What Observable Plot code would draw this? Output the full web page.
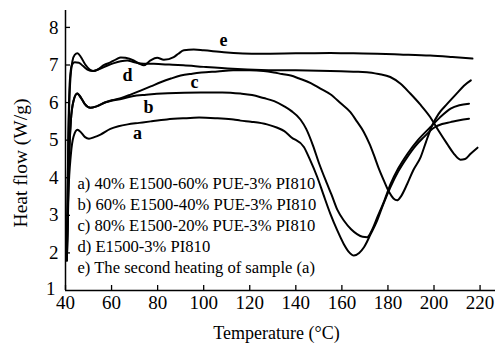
<!DOCTYPE html>
<html>
<head>
<meta charset="utf-8">
<script src="https://cdn.jsdelivr.net/npm/d3@7"></script>
<script src="https://cdn.jsdelivr.net/npm/@observablehq/plot@0.6"></script>
<style>
  html, body { margin: 0; padding: 0; background: #fff; }
  #chart svg { display: block; }
</style>
</head>
<body>
<div id="chart"></div>
<script>
// DSC heating curves: heat flow (W/g) against temperature (°C)
const seriesNames = ["a", "b", "c", "d", "e"];

const tempA = [40.6, 41.3, 42.3, 43.5, 45.2, 46.8, 48.5, 50.2, 52.5, 55.2, 59.5, 63, 67, 72, 77, 84, 91, 98, 106, 113, 116, 120.5, 127.5, 132, 135, 138, 143.5, 146, 149.3, 152, 155, 158, 160.8, 163, 165.2, 167.5, 169.6, 172.5, 175.3, 178, 181.1, 184.5, 188.4, 192, 195.6, 200, 203.5, 207.2, 211, 215.2];
const heatA = [1.8, 3.6, 4.6, 5.1, 5.28, 5.2, 5.08, 5.04, 5.08, 5.15, 5.3, 5.37, 5.42, 5.46, 5.5, 5.55, 5.58, 5.6, 5.58, 5.55, 5.52, 5.49, 5.42, 5.33, 5.24, 5.08, 4.82, 4.5, 4.02, 3.55, 3.04, 2.6, 2.24, 2.03, 1.93, 2.0, 2.15, 2.5, 2.86, 3.3, 3.75, 4.17, 4.55, 4.85, 5.08, 5.33, 5.43, 5.48, 5.53, 5.57];

const tempB = [40.6, 41.3, 42.3, 43.5, 45.1, 46.8, 48.5, 50.8, 53.5, 57.4, 60, 64.6, 69, 75, 84.4, 98.8, 108, 116, 121, 126, 130.6, 135, 138, 142, 144.5, 147.5, 150, 153.5, 155.5, 158, 161, 164, 166.6, 169, 171, 173, 175.4, 178.5, 181.2, 184.5, 188.5, 193, 198.5, 202.5, 207.2, 211, 215.2];
const heatB = [1.8, 4.0, 5.5, 6.05, 6.24, 6.12, 5.95, 5.86, 5.9, 6.01, 6.05, 6.1, 6.17, 6.21, 6.25, 6.27, 6.27, 6.24, 6.2, 6.12, 6.04, 5.9, 5.78, 5.55, 5.3, 4.85, 4.4, 3.85, 3.55, 3.15, 2.85, 2.63, 2.5, 2.43, 2.42, 2.6, 2.95, 3.4, 3.84, 4.25, 4.64, 5.0, 5.35, 5.6, 5.84, 5.93, 5.97];

const tempC = [40.6, 41.3, 42.3, 43.5, 45.1, 46.8, 48.5, 50.8, 53.5, 57.4, 60, 64.6, 68.5, 72.6, 77, 81.3, 85.8, 90, 95, 99, 106, 112.8, 120, 126, 130.5, 134, 137.8, 141.5, 146.5, 150.5, 155, 159.5, 163.6, 166.5, 169.5, 172, 173.8, 176, 178.2, 180.5, 182.4, 184, 185.6, 188.4, 191, 194.2, 196.5, 199.2, 202, 205.8, 210, 213, 216];
const heatC = [1.8, 4.0, 5.5, 6.05, 6.24, 6.12, 5.95, 5.86, 5.9, 6.01, 6.06, 6.13, 6.22, 6.32, 6.43, 6.54, 6.64, 6.72, 6.77, 6.8, 6.83, 6.86, 6.86, 6.84, 6.8, 6.76, 6.72, 6.64, 6.52, 6.38, 6.22, 5.98, 5.75, 5.5, 5.22, 4.9, 4.62, 4.25, 3.93, 3.62, 3.45, 3.4, 3.5, 3.84, 4.2, 4.55, 4.95, 5.39, 5.7, 5.97, 6.25, 6.45, 6.59];

const tempD = [40.6, 41.2, 41.9, 42.8, 44, 45.8, 47.5, 49.5, 52, 55, 58, 61, 64, 66.8, 69.5, 72.6, 78.3, 85, 91.2, 100, 112.6, 125, 137.5, 155, 165, 170.9, 176, 181, 185.5, 189.7, 194, 198.4, 202, 205.7, 208.5, 211.5, 213.5, 215.9, 218.9];
const heatD = [2.0, 5.0, 6.6, 7.0, 7.07, 7.06, 6.98, 6.88, 6.84, 6.9, 6.98, 7.05, 7.1, 7.12, 7.08, 7.04, 7.03, 7.01, 6.99, 6.95, 6.9, 6.87, 6.86, 6.84, 6.82, 6.81, 6.76, 6.68, 6.5, 6.24, 5.95, 5.61, 5.25, 4.9, 4.65, 4.48, 4.5, 4.64, 4.8];

const tempE = [40.6, 41.2, 42, 43, 44, 45.2, 46.6, 48.5, 50.5, 52, 54, 56.8, 59.5, 62, 64, 66, 69.6, 72, 74, 76.9, 79.8, 82.7, 87, 89, 91.4, 95.7, 100, 108.7, 124.7, 140, 155, 165, 175.3, 185, 198.3, 208, 216.7];
const heatE = [2.0, 4.8, 6.5, 7.1, 7.27, 7.31, 7.22, 7.02, 6.88, 6.84, 6.88, 7.0, 7.07, 7.15, 7.2, 7.19, 7.12, 7.04, 6.99, 7.12, 7.19, 7.14, 7.21, 7.3, 7.39, 7.41, 7.39, 7.34, 7.3, 7.31, 7.32, 7.31, 7.3, 7.28, 7.25, 7.21, 7.17];

const xTicks = [40, 60, 80, 100, 120, 140, 160, 180, 200, 220];
const yTicks = [2, 3, 4, 5, 6, 7, 8];
const yTickBottom = [1];

const legendLines = [
  "a) 40% E1500-60% PUE-3% PI810",
  "b) 60% E1500-40% PUE-3% PI810",
  "c) 80% E1500-20% PUE-3% PI810",
  "d) E1500-3% PI810",
  "e) The second heating of sample (a)"
];

// long-format table for the line mark
const temps = [tempA, tempB, tempC, tempD, tempE];
const heats = [heatA, heatB, heatC, heatD, heatE];
const rows = [];
seriesNames.forEach((s, k) => {
  temps[k].forEach((t, i) => rows.push({series: s, t, q: heats[k][i]}));
});

// where each curve's letter sits, in data units
const labelAt = [
  {name: "a", t: 71.3, q: 5.18},
  {name: "b", t: 76.0, q: 5.87},
  {name: "c", t: 96.0, q: 6.54},
  {name: "d", t: 66.9, q: 6.72},
  {name: "e", t: 108.6, q: 7.65}
];

const serif = "'Liberation Serif', 'Times New Roman', Times, serif";
const legendTop = 3.835, legendStep = 0.555;

const chart = Plot.plot({
  width: 497,
  height: 344,
  marginLeft: 65,
  marginRight: 2,
  marginTop: 10,
  marginBottom: 54,
  style: {fontFamily: serif, background: "#fff", color: "#000"},
  x: {domain: [40, 226.7]},
  y: {domain: [1, 8.45]},
  marks: [
    Plot.axisX({ticks: xTicks, tickSize: -5, tickPadding: 10, fontSize: 19, label: null, strokeWidth: 1.3}),
    Plot.axisY({ticks: yTicks, tickSize: -5, tickPadding: 12, fontSize: 19, label: null, strokeWidth: 1.3}),
    // the lowest label sits a little further left, clear of the "40" below it
    Plot.axisY({ticks: yTickBottom, tickSize: 0, tickPadding: 10, dy: -2, fontSize: 19, label: null}),
    Plot.ruleX([40], {strokeWidth: 1.5}),
    Plot.ruleY([1], {strokeWidth: 1.5}),
    Plot.line(rows, {x: "t", y: "q", z: "series", stroke: "#000", strokeWidth: 2, curve: "monotone-x"}),
    Plot.text(legendLines, {
      x: 45.2,
      y: (d, i) => legendTop - i * legendStep,
      text: d => d,
      textAnchor: "start",
      fontSize: 16.6
    }),
    Plot.text(labelAt, {x: "t", y: "q", text: "name", fontSize: 18, fontWeight: "bold"}),
    Plot.text(["Temperature (°C)"], {frameAnchor: "bottom", textAnchor: "middle", lineAnchor: "middle", dx: -4, dy: 43, fontSize: 18}),
    Plot.text(["Heat flow (W/g)"], {frameAnchor: "left", textAnchor: "middle", lineAnchor: "middle", dx: -44.5, dy: 12.5, rotate: -90, fontSize: 19.5})
  ]
});

document.getElementById("chart").appendChild(chart);
</script>
</body>
</html>
